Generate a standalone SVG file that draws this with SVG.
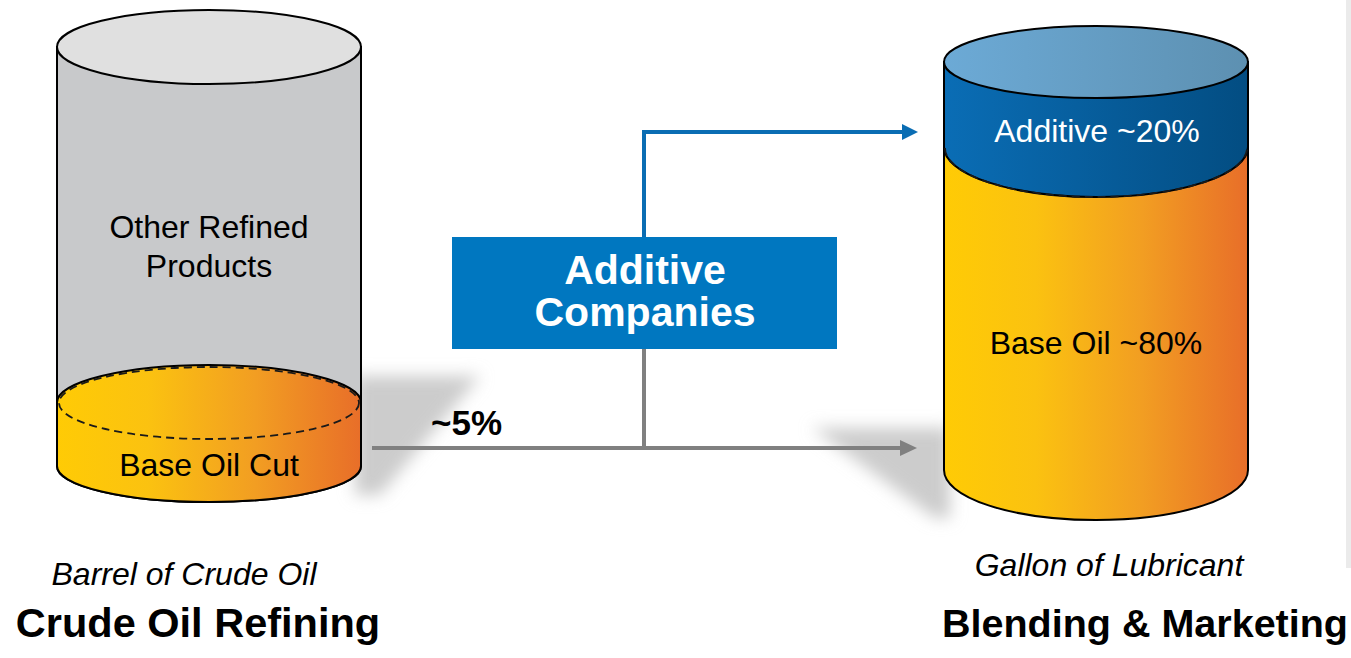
<svg xmlns="http://www.w3.org/2000/svg" width="1351" height="658" viewBox="0 0 1351 658">
<defs>
<style>
text{font-family:"Liberation Sans",Arial,sans-serif;}
.reg{font-size:32px;fill:#000;text-anchor:middle;}
.ital{font-size:32px;font-style:italic;fill:#000;text-anchor:middle;}
.head{font-size:41.5px;font-weight:bold;fill:#000;text-anchor:middle;}
.box{font-size:41px;font-weight:bold;fill:#fff;text-anchor:middle;}
.wt{fill:#fff;}
.outline{stroke:#000;stroke-width:2;}
.dash{fill:none;stroke:#1a1a1a;stroke-width:1.8;stroke-dasharray:8 5;}
.gline{fill:none;stroke:#808080;stroke-width:4;}
.bline{fill:none;stroke:#0a6db3;stroke-width:4;}
.shadow{fill:#cccccc;filter:url(#blur);}
</style>
<linearGradient id="orange" x1="0" y1="0" x2="1" y2="0">
<stop offset="0" stop-color="#ffcb05"/>
<stop offset="0.3" stop-color="#fbc210"/>
<stop offset="0.65" stop-color="#f29e22"/>
<stop offset="1" stop-color="#e86e29"/>
</linearGradient>
<linearGradient id="blueBand" x1="0" y1="0" x2="1" y2="0">
<stop offset="0" stop-color="#0a6db5"/>
<stop offset="1" stop-color="#034d82"/>
</linearGradient>
<linearGradient id="blueTop" x1="0" y1="0" x2="1" y2="0">
<stop offset="0" stop-color="#6caad6"/>
<stop offset="1" stop-color="#5d90b1"/>
</linearGradient>
<filter id="blur" x="-40%" y="-40%" width="180%" height="180%">
<feGaussianBlur stdDeviation="8"/>
</filter>
<marker id="ahGray" markerUnits="userSpaceOnUse" markerWidth="18" markerHeight="16" refX="5" refY="8" orient="auto">
<path d="M0,0 L17,8 L0,16 Z" fill="#808080"/>
</marker>
<marker id="ahBlue" markerUnits="userSpaceOnUse" markerWidth="18" markerHeight="16" refX="5" refY="8" orient="auto">
<path d="M0,0 L16,8 L0,16 Z" fill="#0a6db3"/>
</marker>
</defs>
<rect width="1351" height="658" fill="#fff"/>
<rect x="1346" y="0" width="5" height="568" fill="#ebebeb"/>

<g id="shadows">
<polygon class="shadow" points="355,376 480,376 380,495 355,495"/>
<polygon class="shadow" points="812,428 950,428 950,518 935,518"/>
</g>

<g id="barrel">
<path d="M57,47 L57,466 A152,36 0 0 0 361,466 L361,47 Z" fill="#c8c9cb" class="outline"/>
<ellipse cx="209" cy="47" rx="152" ry="37" fill="#e0e0e0" class="outline"/>
<path d="M57,402.5 A152,37.5 0 0 1 361,402.5 L361,466 A152,36 0 0 1 57,466 Z" fill="url(#orange)" class="outline"/>
<ellipse cx="209" cy="403" rx="150" ry="36" class="dash"/>
<text class="reg" x="209" y="238">Other Refined</text>
<text class="reg" x="209" y="277">Products</text>
<text class="reg" x="209" y="476">Base Oil Cut</text>
<text class="ital" x="184" y="585">Barrel of Crude Oil</text>
<text class="head" x="198" y="637">Crude Oil Refining</text>
</g>

<g id="gallon">
<path d="M944,147 L944,470 A152,50 0 0 0 1248,470 L1248,147 Z" fill="url(#orange)" class="outline"/>
<path d="M944,62 L944,147 A152,50 0 0 0 1248,147 L1248,62 Z" fill="url(#blueBand)" class="outline"/>
<path d="M945,148 A151,49 0 0 0 1247,148" class="dash"/>
<ellipse cx="1096" cy="62" rx="152" ry="36" fill="url(#blueTop)" class="outline"/>
<text class="reg wt" x="1097" y="142">Additive ~20%</text>
<text class="reg" x="1096" y="354">Base Oil ~80%</text>
<text class="ital" x="1109" y="576">Gallon of Lubricant</text>
<text class="head" x="1145" y="637" style="font-size:39.5px">Blending &amp; Marketing</text>
</g>

<g id="connectors">
<path class="gline" d="M372,448 L905,448" marker-end="url(#ahGray)"/>
<path class="gline" d="M644,349 L644,448"/>
<path class="bline" d="M644,237 L644,132 L907,132" marker-end="url(#ahBlue)"/>
<text x="431" y="435" font-size="35" font-weight="bold" fill="#000">~5%</text>
</g>

<g id="additive-companies">
<rect x="452" y="237" width="385" height="112" fill="#0077c0"/>
<text class="box" x="645" y="284">Additive</text>
<text class="box" x="645" y="326">Companies</text>
</g>
</svg>
